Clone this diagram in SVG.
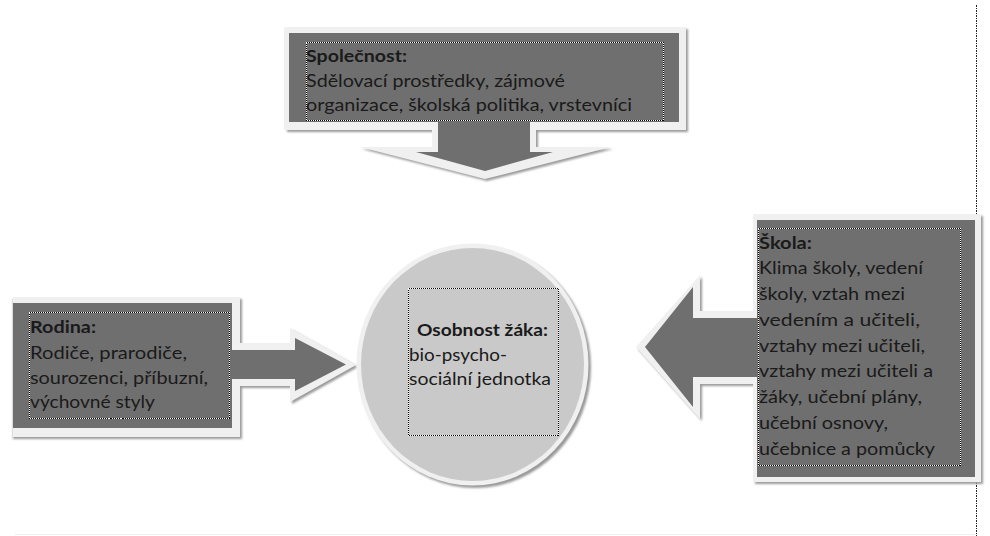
<svg xmlns="http://www.w3.org/2000/svg" width="990" height="536" viewBox="0 0 990 536">
<defs>
<filter id="sh" x="-10%" y="-10%" width="120%" height="120%"><feGaussianBlur stdDeviation="1"/></filter>
</defs>
<style>
.lt{fill:#f0f0f0}
.dk{fill:#6f6f6f}
.sd{fill:#9a9a9a;filter:url(#sh)}
.tb{fill:none;stroke:#ffffff;stroke-width:1;shape-rendering:crispEdges}
.td{fill:none;stroke:#000;stroke-width:1;stroke-dasharray:1 1;shape-rendering:crispEdges}
text{font-family:Lato,"Open Sans","Liberation Sans",sans-serif;font-size:17px;fill:#1a1a1a}
.b{font-weight:bold}
</style>
<rect width="990" height="536" fill="#ffffff"/>
<line x1="976.5" y1="5" x2="976.5" y2="536" stroke="#222" stroke-width="1" stroke-dasharray="1.5 1" shape-rendering="crispEdges"/>
<line x1="15" y1="534.5" x2="975" y2="534.5" stroke="#eeeeee" stroke-width="1"/>

<g id="spolecnost">
<path class="sd" d="M287,29 H688 V132 H538 V149 H613 L487,181 L362,149 H434 V132 H287 Z"/>
<path class="lt" d="M284,27 H686 V130 H536 V147 H611 L485,179 L360,147 H432 V130 H284 Z"/>
<path class="dk" d="M289,33 H679 V122 H530 V152 H553 L485,171 L416,152 H438 V122 H289 Z"/>
<rect class="tb" x="306.5" y="42.5" width="357" height="78"/>
<rect class="td" x="306.5" y="42.5" width="357" height="78"/>
<text class="b" x="306" y="62" textLength="101" lengthAdjust="spacingAndGlyphs">Společnost:</text>
<text x="306" y="87" textLength="259" lengthAdjust="spacingAndGlyphs">Sdělovací prostředky, zájmové</text>
<text x="306" y="111" textLength="326" lengthAdjust="spacingAndGlyphs">organizace, školská politika, vrstevníci</text>
</g>

<g id="rodina">
<path class="sd" d="M13,299 H242 V345 H292 V330 L358,367 L292,404 V388 H242 V439 H13 Z"/>
<path class="lt" d="M13,297 H240 V343 H290 V328 L356,365 L290,402 V386 H240 V437 H13 Z"/>
<path class="dk" d="M13,303 H232 V350 H295 V338 L346,364.5 L295,391 V379 H232 V428 H13 Z"/>
<rect class="tb" x="29.5" y="312.5" width="200" height="106"/>
<rect class="td" x="29.5" y="312.5" width="200" height="106"/>
<text class="b" x="30" y="333" textLength="66" lengthAdjust="spacingAndGlyphs">Rodina:</text>
<text x="30" y="359" textLength="157" lengthAdjust="spacingAndGlyphs">Rodiče, prarodiče,</text>
<text x="30" y="384" textLength="178" lengthAdjust="spacingAndGlyphs">sourozenci, příbuzní,</text>
<text x="30" y="408" textLength="125" lengthAdjust="spacingAndGlyphs">výchovné styly</text>
</g>

<g id="skola">
<path class="sd" d="M983,216 V484 H755 V386 H702 V421 L638,349 L702,277 V313 H755 V216 Z"/>
<path class="lt" d="M981,214 V482 H753 V384 H700 V419 L636,347 L700,275 V311 H753 V214 Z"/>
<path class="dk" d="M975,220 V477 H757 V377 H693 V407 L645,347 L693,287 V318 H757 V220 Z"/>
<rect class="tb" x="758.5" y="228.5" width="202" height="237"/>
<rect class="td" x="758.5" y="228.5" width="202" height="237"/>
<text class="b" x="759" y="249" textLength="53" lengthAdjust="spacingAndGlyphs">Škola:</text>
<text x="759" y="274" textLength="164" lengthAdjust="spacingAndGlyphs">Klima školy, vedení</text>
<text x="759" y="300" textLength="146" lengthAdjust="spacingAndGlyphs">školy, vztah mezi</text>
<text x="759" y="326" textLength="161" lengthAdjust="spacingAndGlyphs">vedením a učiteli,</text>
<text x="759" y="352" textLength="166" lengthAdjust="spacingAndGlyphs">vztahy mezi učiteli,</text>
<text x="759" y="377" textLength="174" lengthAdjust="spacingAndGlyphs">vztahy mezi učiteli a</text>
<text x="759" y="403" textLength="163" lengthAdjust="spacingAndGlyphs">žáky, učební plány,</text>
<text x="759" y="429" textLength="129" lengthAdjust="spacingAndGlyphs">učební osnovy,</text>
<text x="759" y="455" textLength="176" lengthAdjust="spacingAndGlyphs">učebnice a pomůcky</text>
</g>

<g id="osobnost">
<ellipse class="sd" cx="475" cy="367" rx="116" ry="121"/>
<ellipse class="lt" cx="472.5" cy="364.5" rx="116" ry="121"/>
<ellipse fill="#c9c9c9" cx="472.5" cy="364.5" rx="111.5" ry="116.5"/>
<rect class="tb" x="408.5" y="288.5" width="150" height="147"/>
<rect class="td" x="408.5" y="288.5" width="150" height="147"/>
<text class="b" x="417" y="336" textLength="131" lengthAdjust="spacingAndGlyphs">Osobnost žáka:</text>
<text x="409" y="361" textLength="98" lengthAdjust="spacingAndGlyphs">bio-psycho-</text>
<text x="409" y="385" textLength="142" lengthAdjust="spacingAndGlyphs">sociální jednotka</text>
</g>
</svg>
